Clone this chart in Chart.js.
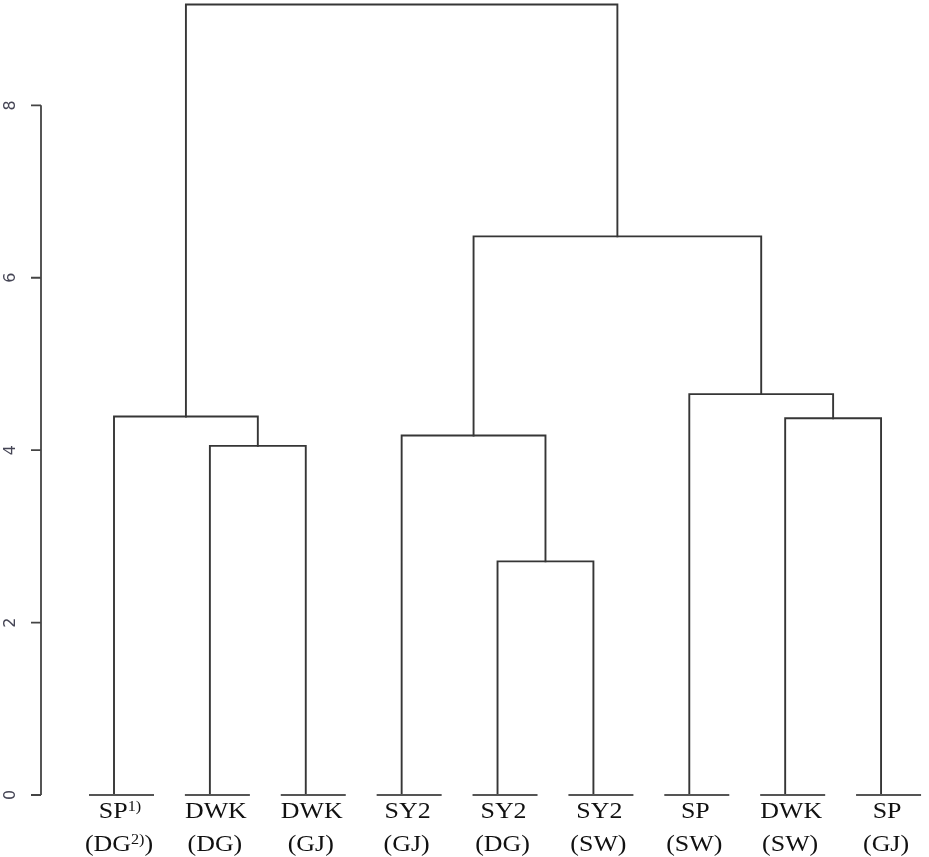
<!DOCTYPE html>
<html>
<head>
<meta charset="utf-8">
<script src="https://cdn.jsdelivr.net/npm/chart.js@4.4.1/dist/chart.umd.min.js"></script>
<style>
  html, body { margin: 0; padding: 0; background: #fff; }
  #wrap { width: 929px; height: 857px; }
</style>
</head>
<body>
<div id="wrap"><canvas id="dendro" width="929" height="857"></canvas></div>
<script>
// leaves, in dendrogram order
var leafName = ["SP", "DWK", "DWK", "SY2", "SY2", "SY2", "SP", "DWK", "SP"];
var leafNameSup = ["1)", "", "", "", "", "", "", "", ""];
var leafSite = ["DG", "DG", "GJ", "GJ", "DG", "SW", "SW", "SW", "GJ"];
var leafSiteSup = ["2)", "", "", "", "", "", "", "", ""];

// hclust style merges: negative = leaf number, positive = earlier merge
var mergeLeft = [-5, -2, -4, -8, -1, -7, 3, 5];
var mergeRight = [-6, -3, 1, -9, 2, 4, 6, 7];
var mergeHeight = [2.71, 4.05, 4.17, 4.37, 4.39, 4.65, 6.48, 9.17];

var yTicks = [0, 2, 4, 6, 8];

const LINE_COLOR = "#363636";

// positions of every node
var nodeX = [];
function childPos(c) {
    if (c < 0) return { x: -c, h: 0 };
    return { x: nodeX[c - 1], h: mergeHeight[c - 1] };
}

var datasets = [];
mergeHeight.forEach((h, k) => {
    var a = childPos(mergeLeft[k]);
    var b = childPos(mergeRight[k]);
    nodeX[k] = (a.x + b.x) / 2;
    datasets.push({
        data: [
            { x: a.x, y: a.h },
            { x: a.x, y: h },
            { x: b.x, y: h },
            { x: b.x, y: b.h }
        ],
        showLine: true,
        borderColor: LINE_COLOR,
        borderWidth: 1.9,
        pointRadius: 0,
        borderJoinStyle: "miter",
        borderCapStyle: "square",
        clip: false
    });
});

// text with superscripts, stretched a little sideways like the source image
function drawRich(ctx, parts, cx, baseline, size, supSize) {
    var stretch = 1.08;
    var w = 0;
    parts.forEach(p => {
        ctx.font = (p.sup ? supSize : size) + "px 'Liberation Serif', 'Times New Roman', serif";
        p.w = ctx.measureText(p.text).width;
        w += p.w;
    });
    ctx.save();
    ctx.translate(cx - w * stretch / 2, baseline);
    ctx.scale(stretch, 1);
    var x = 0;
    parts.forEach(p => {
        ctx.font = (p.sup ? supSize : size) + "px 'Liberation Serif', 'Times New Roman', serif";
        ctx.fillText(p.text, x, p.sup ? -7 : 0);
        x += p.w;
    });
    ctx.restore();
}

const rPlot = {
    id: "rPlot",
    afterDraw(chart) {
        var ctx = chart.ctx;
        var xs = chart.scales.x, ys = chart.scales.y;
        ctx.save();

        // y axis (R style, spans the tick range only)
        var axX = 41;
        ctx.strokeStyle = "#444";
        ctx.lineWidth = 1.8;
        ctx.beginPath();
        ctx.moveTo(axX, ys.getPixelForValue(yTicks[0]));
        ctx.lineTo(axX, ys.getPixelForValue(yTicks[yTicks.length - 1]));
        yTicks.forEach(t => {
            var py = ys.getPixelForValue(t);
            ctx.moveTo(axX - 10, py);
            ctx.lineTo(axX, py);
        });
        ctx.stroke();

        ctx.fillStyle = "#454555";
        ctx.font = "16px 'DejaVu Sans', sans-serif";
        ctx.textAlign = "center";
        ctx.textBaseline = "middle";
        yTicks.forEach(t => {
            var py = ys.getPixelForValue(t);
            ctx.save();
            ctx.translate(11, py);
            ctx.rotate(-Math.PI / 2);
            ctx.fillText(String(t), 0, 0);
            ctx.restore();
        });

        // leaf baselines and labels
        var y0 = ys.getPixelForValue(0);
        ctx.strokeStyle = "#555";
        ctx.lineWidth = 1.9;
        ctx.fillStyle = "#111";
        ctx.textAlign = "left";
        ctx.textBaseline = "alphabetic";
        leafName.forEach((name, i) => {
            var px = xs.getPixelForValue(i + 1);
            ctx.beginPath();
            ctx.moveTo(px - 25, y0);
            ctx.lineTo(px + 40, y0);
            ctx.stroke();

            var top = [{ text: name }];
            if (leafNameSup[i]) top.push({ text: leafNameSup[i], sup: true });
            drawRich(ctx, top, px + 6, 818, 24, 15);

            var bot = [{ text: "(" + leafSite[i] }];
            if (leafSiteSup[i]) bot.push({ text: leafSiteSup[i], sup: true });
            bot.push({ text: ")" });
            drawRich(ctx, bot, px + 5, 851, 24, 15);
        });
        ctx.restore();
    }
};

new Chart(document.getElementById("dendro"), {
    type: "scatter",
    data: { datasets: datasets },
    options: {
        responsive: false,
        animation: false,
        layout: { padding: { top: 4.5, bottom: 62, left: 0, right: 0 } },
        scales: {
            x: { type: "linear", min: -0.189, max: 9.5, display: false },
            y: { type: "linear", min: 0, max: 9.17, display: false }
        },
        plugins: {
            legend: { display: false },
            tooltip: { enabled: false }
        },
        elements: { line: { tension: 0 } }
    },
    plugins: [rPlot]
});
</script>
</body>
</html>
